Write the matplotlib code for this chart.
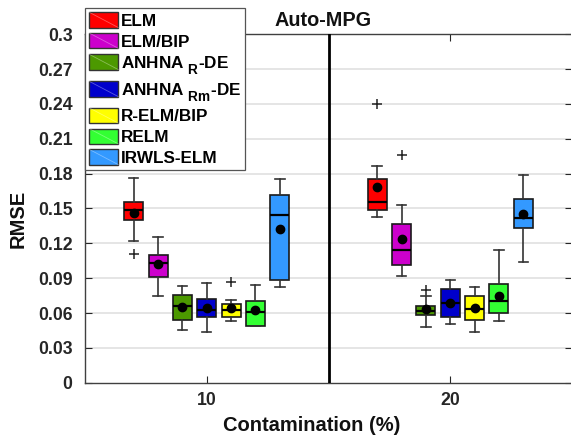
import matplotlib
matplotlib.use("Agg")
import matplotlib.pyplot as plt
from matplotlib.patches import Patch, Rectangle
from matplotlib.lines import Line2D
from matplotlib.legend_handler import HandlerBase

try:
    from matplotlib import _mathtext
    _mathtext.FontConstantsBase.sub1 = 0.75
    _mathtext.FontConstantsBase.sub2 = 0.9
    _mathtext.SHRINK_FACTOR = 0.8
except Exception:
    pass

plt.rcParams['font.family'] = ['Liberation Sans', 'DejaVu Sans']
plt.rcParams['font.weight'] = 'bold'
plt.rcParams['mathtext.fontset'] = 'custom'
plt.rcParams['mathtext.rm'] = 'Liberation Sans:bold'
plt.rcParams['mathtext.bf'] = 'Liberation Sans:bold'
plt.rcParams['mathtext.default'] = 'bf'

# ---------------- data ----------------
methods = ['ELM', 'ELM/BIP', r'ANHNA $_{R}$-DE', r'ANHNA $_{Rm}$-DE',
           'R-ELM/BIP', 'RELM', 'IRWLS-ELM']
colors = ['#FF0000', '#CC00CC', '#4C9900', '#0000CC', '#FFFF00', '#33FF33', '#3399FF']
contamination = ['10', '20']
yticks = [0, 0.03, 0.06, 0.09, 0.12, 0.15, 0.18, 0.21, 0.24, 0.27, 0.3]
ytick_labels = ['0', '0.03', '0.06', '0.09', '0.12', '0.15', '0.18', '0.21', '0.24', '0.27', '0.3']

# contamination 10 %
whislo_10 = [0.1220, 0.0749, 0.0457, 0.0440, 0.0530, 0.0489, 0.0828]
q1_10     = [0.1403, 0.0906, 0.0539, 0.0565, 0.0567, 0.0492, 0.0886]
med_10    = [0.1490, 0.1033, 0.0659, 0.0625, 0.0625, 0.0608, 0.1447]
q3_10     = [0.1553, 0.1100, 0.0752, 0.0724, 0.0678, 0.0700, 0.1620]
whishi_10 = [0.1765, 0.1256, 0.0834, 0.0860, 0.0709, 0.0845, 0.1754]
mean_10   = [0.1460, 0.1019, 0.0651, 0.0642, 0.0639, 0.0625, 0.1322]
fliers_10 = [[0.1110], [], [], [], [0.0868], [], []]

# contamination 20 %
whislo_20 = [0.1424, 0.0923, 0.0477, 0.0506, 0.0440, 0.0530, 0.1038]
q1_20     = [0.1484, 0.1010, 0.0582, 0.0567, 0.0539, 0.0599, 0.1328]
med_20    = [0.1560, 0.1140, 0.0619, 0.0683, 0.0631, 0.0706, 0.1415]
q3_20     = [0.1751, 0.1366, 0.0662, 0.0807, 0.0749, 0.0854, 0.1583]
whishi_20 = [0.1866, 0.1526, 0.0747, 0.0883, 0.0822, 0.1140, 0.1791]
mean_20   = [0.1682, 0.1236, 0.0633, 0.0686, 0.0639, 0.0744, 0.1450]
fliers_20 = [[0.2396], [0.1962], [0.0801], [], [], [], []]

groups = [
    (whislo_10, q1_10, med_10, q3_10, whishi_10, mean_10, fliers_10),
    (whislo_20, q1_20, med_20, q3_20, whishi_20, mean_20, fliers_20),
]

# ---------------- figure ----------------
fig = plt.figure(figsize=(5.71, 4.36), dpi=100)
ax = fig.add_axes([85 / 571, 53.3 / 436, 487 / 571, 348.4 / 436])

grid_col = '#E3E3E3'
for yv in yticks[1:-1]:
    ax.axhline(yv, color=grid_col, lw=1.3, zorder=0)

offsets = [-0.3, -0.2, -0.1, 0.0, 0.1, 0.2, 0.3]
box_w = 0.078
edge = '#1A1A1A'
for gi, (wl, q1, md, q3, wh, mn, fl) in enumerate(groups):
    stats = []
    for i in range(len(methods)):
        stats.append(dict(whislo=wl[i], q1=q1[i], med=md[i], q3=q3[i],
                          whishi=wh[i], mean=mn[i], fliers=fl[i]))
    pos = [gi + 1 + o for o in offsets]
    bp = ax.bxp(stats, positions=pos, widths=box_w, patch_artist=True,
                showmeans=True, capwidths=box_w * 0.5,
                boxprops=dict(edgecolor=edge, linewidth=1.2),
                medianprops=dict(color='black', linewidth=1.6),
                whiskerprops=dict(color='#333333', linewidth=1.2),
                capprops=dict(color='#333333', linewidth=1.2),
                meanprops=dict(marker='o', markerfacecolor='black',
                               markeredgecolor='black', markersize=6),
                flierprops=dict(marker='+', markeredgecolor='#222222',
                                markersize=7, markeredgewidth=1.1),
                zorder=3)
    for patch, c in zip(bp['boxes'], colors):
        patch.set_facecolor(c)

ax.axvline(1.5, color='black', lw=2.0, zorder=4)

ax.set_xlim(0.5, 2.5)
ax.set_ylim(0, 0.3)
ax.set_yticks(yticks)
ax.set_yticklabels(ytick_labels)
ax.set_xticks([1, 2])
ax.set_xticklabels(contamination)
ax.tick_params(axis='y', direction='in', length=5, width=0.8, pad=9,
               labelsize=12.7, colors='#262626', right=True)
ax.tick_params(axis='x', direction='in', length=5, width=0.8, pad=7,
               labelsize=12.7, colors='#262626', top=True)
for s in ax.spines.values():
    s.set_color('#404040')
    s.set_linewidth(1.0)

fig.text(323 / 571, 1 - 20.7 / 436, 'Auto-MPG', ha='center', va='center',
         fontsize=14.3, fontweight='bold', color='#111111')
fig.text(312 / 571, 1 - 425 / 436, 'Contamination (%)', ha='center', va='center',
         fontsize=14.5, fontweight='bold', color='#111111')
fig.text(18 / 571, 1 - 218.5 / 436, 'RMSE', ha='center', va='center',
         rotation=90, fontsize=14.5, fontweight='bold', color='#111111')


class DiagHandler(HandlerBase):
    def create_artists(self, legend, orig_handle, xdescent, ydescent, width,
                       height, fontsize, trans):
        r = Rectangle((-xdescent, -ydescent), width, height,
                      facecolor=orig_handle.get_facecolor(), edgecolor='#333333',
                      lw=1.0, transform=trans)
        l = Line2D([-xdescent, -xdescent + width], [-ydescent + height, -ydescent],
                   color='white', alpha=0.35, lw=0.6, transform=trans)
        return [r, l]


handles = [Patch(facecolor=c, label=m) for c, m in zip(colors, methods)]
leg = ax.legend(handles=handles, loc='upper left',
                bbox_to_anchor=(85 / 571, 1 - 8 / 436),
                bbox_transform=fig.transFigure, borderaxespad=0,
                fontsize=12.3, handlelength=1.7, handleheight=1.0,
                handletextpad=0.15, borderpad=0.25, labelspacing=0.25,
                fancybox=False, framealpha=1, edgecolor='#555555',
                handler_map={Patch: DiagHandler()})
leg.get_frame().set_linewidth(0.9)
leg.set_zorder(10)

fig.savefig('out.png', dpi=100)
